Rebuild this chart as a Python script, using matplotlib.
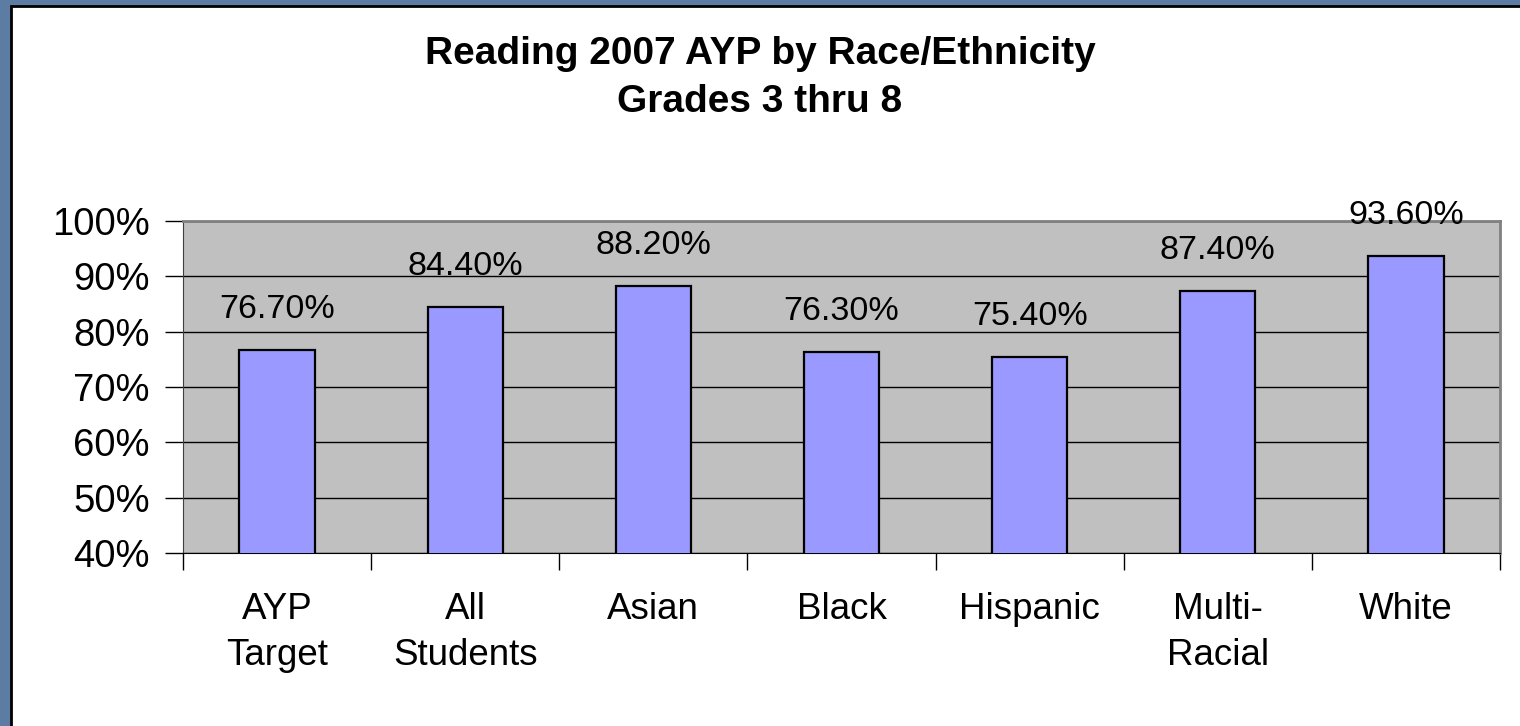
import numpy as np
import matplotlib.pyplot as plt
from matplotlib.patches import Rectangle

plt.rcParams['font.family'] = ['Liberation Sans', 'DejaVu Sans']

categories = ["AYP\nTarget", "All\nStudents", "Asian", "Black", "Hispanic", "Multi-\nRacial", "White"]
values = [76.7, 84.4, 88.2, 76.3, 75.4, 87.4, 93.6]
yticks = [40, 50, 60, 70, 80, 90, 100]

W, H = 1520, 726
fig = plt.figure(figsize=(W / 100, H / 100), dpi=100)
fig.patch.set_facecolor('#5d7ca3')

# white slide panel with a dark edge, behind everything
panel = Rectangle((11 / W, -0.05), 1.1, 1 - 6 / H + 0.05, transform=fig.transFigure,
                  facecolor='white', edgecolor='black', linewidth=2, zorder=-10)
fig.patches.append(panel)

ax = fig.add_axes([183 / W, 173 / H, 1317 / W, 332 / H])
ax.set_facecolor('#c0c0c0')

x = np.arange(len(categories))
bars = ax.bar(x, values, width=0.40, color='#9999ff', edgecolor='black', linewidth=1.6, zorder=3)
ax.bar_label(bars, labels=["{:.2f}%".format(v) for v in values], padding=18, fontsize=24.5, zorder=4)

ax.set_ylim(40, 100)
ax.set_xlim(-0.5, len(categories) - 0.5)
ax.set_yticks(yticks)
ax.set_yticklabels(["{}%".format(t) for t in yticks], fontsize=27.5)
ax.yaxis.grid(True, color='black', linewidth=1)
ax.set_axisbelow(True)

ax.set_xticks(np.arange(-0.5, len(categories), 1.0))
ax.set_xticklabels([])
ax.set_xticks(x, minor=True)
ax.set_xticklabels(categories, minor=True, fontsize=26.5, linespacing=1.42)
ax.tick_params(axis='x', which='major', direction='out', length=12, width=1, color='black')
ax.tick_params(axis='x', which='minor', length=0, pad=28)
ax.tick_params(axis='y', direction='out', length=13, width=1, pad=11)

for side in ['top', 'right']:
    ax.spines[side].set_color('#808080')
    ax.spines[side].set_linewidth(2)
ax.spines['left'].set_color('#404040')
ax.spines['bottom'].set_color('black')

fig.text(0.5, 1 - 64 / H, "Reading 2007 AYP by Race/Ethnicity", ha='center', va='baseline',
         fontsize=28, fontweight='bold')
fig.text(0.5, 1 - 112 / H, "Grades 3 thru 8", ha='center', va='baseline',
         fontsize=28, fontweight='bold')

fig.savefig('out.png', dpi=100, facecolor=fig.get_facecolor())
